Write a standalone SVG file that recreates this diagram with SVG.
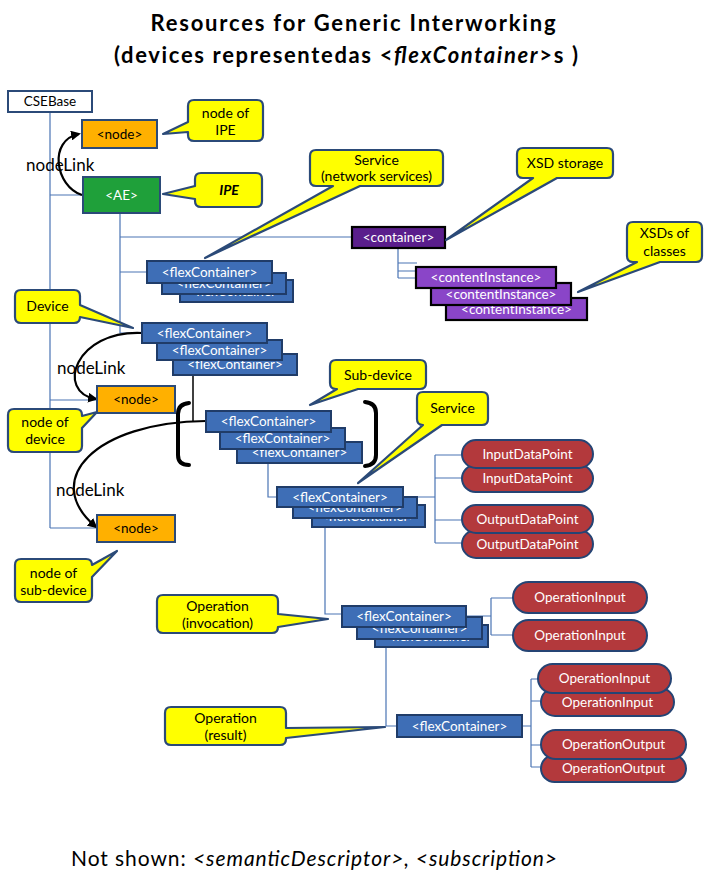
<svg xmlns="http://www.w3.org/2000/svg" width="705" height="883" viewBox="0 0 705 883">
<style>
.conn{stroke:#4A74B4;stroke-width:1.2;fill:none}
.blk{stroke:#000;stroke-width:1.5;fill:none}
.link{stroke:#000;stroke-width:2.2;fill:none;marker-end:url(#ah)}
.brk{stroke:#000;stroke-width:4;fill:none;stroke-linecap:round}
.fc{fill:#3E6EB6;stroke:#203C68;stroke-width:2}
.call{fill:#FFFF00;stroke:#2B4A78;stroke-width:2.2;stroke-linejoin:round}
.pill{fill:#B3393C;stroke:#254474;stroke-width:2}
.ctr{fill:#5A1E8C;stroke:#000;stroke-width:2.2}
.ci{fill:#8A45C8;stroke:#000;stroke-width:2.2}
.nd{fill:#FFB000;stroke:#2B4A78;stroke-width:2}
.ae{fill:#1FA03A;stroke:#2B4A78;stroke-width:2}
.t{font-family:Lato,"Liberation Sans",sans-serif;font-size:13.5px;text-anchor:middle;fill:#000}
.c{font-family:Lato,"Liberation Sans",sans-serif;font-size:14px;text-anchor:middle;fill:#000}
.w{fill:#fff}
.nl{font-family:Lato,"Liberation Sans",sans-serif;font-size:17px;fill:#000}
</style>
<defs>
<marker id="ah" viewBox="0 0 10 10" refX="8" refY="5" markerWidth="4.5" markerHeight="4.5" orient="auto">
<path d="M0,0 L10,5 L0,10 Z" fill="#000"/>
</marker>
</defs>

<g id="title">
<text x="353" y="31" font-family="Lato,'Liberation Sans',sans-serif" font-size="22" font-weight="bold" text-anchor="middle" textLength="405">Resources for Generic Interworking</text>
<text x="346" y="63" font-family="Lato,'Liberation Sans',sans-serif" font-size="22" font-weight="bold" text-anchor="middle" textLength="464">(devices representedas &lt;<tspan font-style="italic">flexContainer</tspan>&gt;s )</text>
</g>

<g id="connectors">
<path class="conn" d="M50,112 V528 M50,195 H83 M50,400 H97 M50,528 H97"/>
<path class="conn" d="M120,213 V333 H142 M120,237 H352 M120,272 H147"/>
<path class="conn" d="M398,248 V278 M398,263 H417 M398,271 H432 V290 M398,278 H447 V305"/>
<path class="conn" d="M268,463 V497 H277"/>
<path class="conn" d="M403,497 H435 M435,455 V543 M435,455 H462 M435,478 H462 M435,520 H462 M435,543 H462"/>
<path class="conn" d="M325,527 V614 H342"/>
<path class="conn" d="M466,616 H491 M491,598 V635 M491,598 H514 M491,635 H514"/>
<path class="conn" d="M386,647 V726 H397"/>
<path class="conn" d="M522,726 H531 M531,679 V767 M531,679 H540 M531,701 H541 M531,745 H541 M531,767 H541"/>
<path class="blk" d="M193,375 V422"/>
<path class="link" d="M82,195 C55,186 48,140 79,134"/>
<path class="link" d="M142,333 C75,330 55,392 96,399"/>
<path class="link" d="M206,421 C95,422 40,480 96,527"/>
</g>

<g id="labels">
<text class="nl" x="26" y="171">nodeLink</text>
<text class="nl" x="57" y="374">nodeLink</text>
<text class="nl" x="56" y="496">nodeLink</text>
</g>

<g id="brackets">
<path class="brk" d="M189,403 Q178,404 178,414 V455 Q178,465 189,465"/>
<path class="brk" d="M365,402 Q376,403 376,413 V455 Q376,465 365,466"/>
</g>

<g id="cseBase">
<rect x="8" y="91" width="84" height="21" fill="#fff" stroke="#2B4A78" stroke-width="2"/>
<text class="t" x="50" y="106" font-size="13">CSEBase</text>
</g>
<g id="nodeIPE">
<rect class="nd" x="82" y="120" width="75" height="28"/>
<text class="t" x="119.5" y="138.5">&lt;node&gt;</text>
</g>
<g id="ae">
<rect class="ae" x="83" y="177" width="77" height="36"/>
<text class="t w" x="121.5" y="200">&lt;AE&gt;</text>
</g>

<g id="container">
<rect class="ctr" x="352" y="227" width="93" height="21"/>
<text class="t w" x="398.5" y="242">&lt;container&gt;</text>
</g>
<g id="contentInstances">
<rect class="ci" x="446" y="298" width="141" height="22"/>
<text class="t w" x="516.5" y="313.5">&lt;contentInstance&gt;</text>
<rect class="ci" x="431" y="283" width="140" height="22"/>
<text class="t w" x="501" y="298.5">&lt;contentInstance&gt;</text>
<rect class="ci" x="416" y="267" width="140" height="21"/>
<text class="t w" x="486" y="282">&lt;contentInstance&gt;</text>
</g>

<g id="networkServices">
<rect class="fc" x="180" y="280" width="113" height="22"/>
<text class="t w" x="236" y="296">&lt;flexContainer&gt;</text>
<rect class="fc" x="162" y="273" width="124" height="21"/>
<text class="t w" x="224" y="288">&lt;flexContainer&gt;</text>
<rect class="fc" x="147" y="261" width="125" height="22"/>
<text class="t w" x="209.5" y="276.5">&lt;flexContainer&gt;</text>
</g>

<g id="devices">
<rect class="fc" x="173" y="354" width="124" height="21"/>
<text class="t w" x="235" y="369">&lt;flexContainer&gt;</text>
<rect class="fc" x="157" y="340" width="125" height="20"/>
<text class="t w" x="219.5" y="354.5">&lt;flexContainer&gt;</text>
<rect class="fc" x="142" y="323" width="125" height="20"/>
<text class="t w" x="204.5" y="337.5">&lt;flexContainer&gt;</text>
</g>

<g id="nodeDevice">
<rect class="nd" x="97" y="386" width="78" height="27"/>
<text class="t" x="136" y="404">&lt;node&gt;</text>
</g>
<g id="nodeSubDevice">
<rect class="nd" x="97" y="515" width="78" height="27"/>
<text class="t" x="136" y="533">&lt;node&gt;</text>
</g>

<g id="subDevices">
<rect class="fc" x="237" y="442" width="125" height="21"/>
<text class="t w" x="299.5" y="457">&lt;flexContainer&gt;</text>
<rect class="fc" x="220" y="428" width="125" height="21"/>
<text class="t w" x="282.5" y="443">&lt;flexContainer&gt;</text>
<rect class="fc" x="206" y="411" width="125" height="21"/>
<text class="t w" x="268.5" y="426">&lt;flexContainer&gt;</text>
</g>

<g id="services">
<rect class="fc" x="312" y="505" width="113" height="22"/>
<text class="t w" x="368.5" y="521">&lt;flexContainer&gt;</text>
<rect class="fc" x="293" y="497" width="124" height="21"/>
<text class="t w" x="355" y="512">&lt;flexContainer&gt;</text>
<rect class="fc" x="277" y="487" width="126" height="20"/>
<text class="t w" x="340" y="501.5">&lt;flexContainer&gt;</text>
</g>

<g id="dataPoints">
<rect class="pill" x="462" y="465" width="131" height="27" rx="13.5"/>
<text class="t w" x="527.5" y="483">InputDataPoint</text>
<rect class="pill" x="462" y="440" width="131" height="28" rx="14"/>
<text class="t w" x="527.5" y="458.5">InputDataPoint</text>
<rect class="pill" x="462" y="530" width="131" height="28" rx="14"/>
<text class="t w" x="527.5" y="548.5">OutputDataPoint</text>
<rect class="pill" x="462" y="505" width="131" height="28" rx="14"/>
<text class="t w" x="527.5" y="523.5">OutputDataPoint</text>
</g>

<g id="operationInvocation">
<rect class="fc" x="375" y="625" width="113" height="22"/>
<text class="t w" x="431.5" y="641">&lt;flexContainer&gt;</text>
<rect class="fc" x="357" y="617" width="125" height="22"/>
<text class="t w" x="419.5" y="632.5">&lt;flexContainer&gt;</text>
<rect class="fc" x="342" y="606" width="124" height="21"/>
<text class="t w" x="404" y="621">&lt;flexContainer&gt;</text>
</g>

<g id="operationInputs">
<rect class="pill" x="513" y="582" width="134" height="31" rx="15.5"/>
<text class="t w" x="580" y="602">OperationInput</text>
<rect class="pill" x="513" y="620" width="134" height="31" rx="15.5"/>
<text class="t w" x="580" y="640">OperationInput</text>
</g>

<g id="operationResult">
<rect class="fc" x="397" y="715" width="125" height="22"/>
<text class="t w" x="459.5" y="730.5">&lt;flexContainer&gt;</text>
</g>

<g id="resultPoints">
<rect class="pill" x="541" y="688" width="133" height="28" rx="14"/>
<text class="t w" x="607.5" y="706.5">OperationInput</text>
<rect class="pill" x="538" y="664" width="133" height="29" rx="14.5"/>
<text class="t w" x="604.5" y="683">OperationInput</text>
<rect class="pill" x="541" y="755" width="145" height="27" rx="13.5"/>
<text class="t w" x="613.5" y="773">OperationOutput</text>
<rect class="pill" x="541" y="730" width="145" height="29" rx="14.5"/>
<text class="t w" x="613.5" y="749">OperationOutput</text>
</g>

<g id="calloutNodeIPE">
<path class="call" d="M194,100 H257 Q263,100 263,106 V135 Q263,141 257,141 H194 Q188,141 188,135 V132 L163,134 L188,122 V106 Q188,100 194,100 Z"/>
<text class="c" x="225.5" y="118">node of</text>
<text class="c" x="225.5" y="135">IPE</text>
</g>
<g id="calloutIPE">
<path class="call" d="M201,173 H256 Q262,173 262,179 V201 Q262,207 256,207 H201 Q195,207 195,201 V199 L163,194 L195,186 V179 Q195,173 201,173 Z"/>
<text class="c" x="229" y="195" font-weight="bold" font-style="italic">IPE</text>
</g>
<g id="calloutNetworkServices">
<path class="call" d="M316,150 H437 Q443,150 443,156 V180 Q443,186 437,186 H360 L205,258 L333,186 H316 Q310,186 310,180 V156 Q310,150 316,150 Z"/>
<text class="c" x="376.5" y="165">Service</text>
<text class="c" x="376.5" y="181">(network services)</text>
</g>
<g id="calloutXSDStorage">
<path class="call" d="M523,148 H607 Q613,148 613,154 V172 Q613,178 607,178 H557 L446,240 L533,178 H523 Q517,178 517,172 V154 Q517,148 523,148 Z"/>
<text class="c" x="565" y="168">XSD storage</text>
</g>
<g id="calloutXSDClasses">
<path class="call" d="M633,222 H696 Q702,222 702,228 V256 Q702,262 696,262 H660 L578,292 L637,262 H633 Q627,262 627,256 V228 Q627,222 633,222 Z"/>
<text class="c" x="664.5" y="238">XSDs of</text>
<text class="c" x="664.5" y="256">classes</text>
</g>
<g id="calloutDevice">
<path class="call" d="M21,290 H74 Q80,290 80,296 V305 L133,328 L80,317 Q80,323 74,323 H21 Q15,323 15,317 V296 Q15,290 21,290 Z"/>
<text class="c" x="47.5" y="311">Device</text>
</g>
<g id="calloutNodeDevice">
<path class="call" d="M14,409 H76 Q82,409 82,415 V416 L97,412 L82,428 V446 Q82,452 76,452 H14 Q8,452 8,446 V415 Q8,409 14,409 Z"/>
<text class="c" x="45" y="427">node of</text>
<text class="c" x="45" y="444">device</text>
</g>
<g id="calloutSubDevice">
<path class="call" d="M336,360 H420 Q426,360 426,366 V383 Q426,389 420,389 H358 L310,405 L337,389 H336 Q330,389 330,383 V366 Q330,360 336,360 Z"/>
<text class="c" x="378" y="380">Sub-device</text>
</g>
<g id="calloutService">
<path class="call" d="M423,392 H482 Q488,392 488,398 V419 Q488,425 482,425 H442 L358,483 L423,425 Q417,425 417,419 V398 Q417,392 423,392 Z"/>
<text class="c" x="452.5" y="413">Service</text>
</g>
<g id="calloutNodeSubDevice">
<path class="call" d="M21,559 H86 Q92,559 92,565 L117,551 L92,577 V596 Q92,602 86,602 H21 Q15,602 15,596 V565 Q15,559 21,559 Z"/>
<text class="c" x="53.5" y="578">node of</text>
<text class="c" x="53.5" y="595">sub-device</text>
</g>
<g id="calloutOperationInvocation">
<path class="call" d="M163,595 H272 Q278,595 278,601 V614 L328,619 L278,627 Q278,633 272,633 H163 Q157,633 157,627 V601 Q157,595 163,595 Z"/>
<text class="c" x="217.5" y="611">Operation</text>
<text class="c" x="217.5" y="628">(invocation)</text>
</g>
<g id="calloutOperationResult">
<path class="call" d="M171,707 H280 Q286,707 286,713 V728 L385,727 L286,738 V739 Q286,745 280,745 H171 Q165,745 165,739 V713 Q165,707 171,707 Z"/>
<text class="c" x="225.5" y="723">Operation</text>
<text class="c" x="225.5" y="740">(result)</text>
</g>

<g id="footer">
<text x="71" y="866" font-family="Lato,'Liberation Sans',sans-serif" font-size="21" textLength="486">Not shown: <tspan font-style="italic">&lt;semanticDescriptor&gt;, &lt;subscription&gt;</tspan></text>
</g>
</svg>
